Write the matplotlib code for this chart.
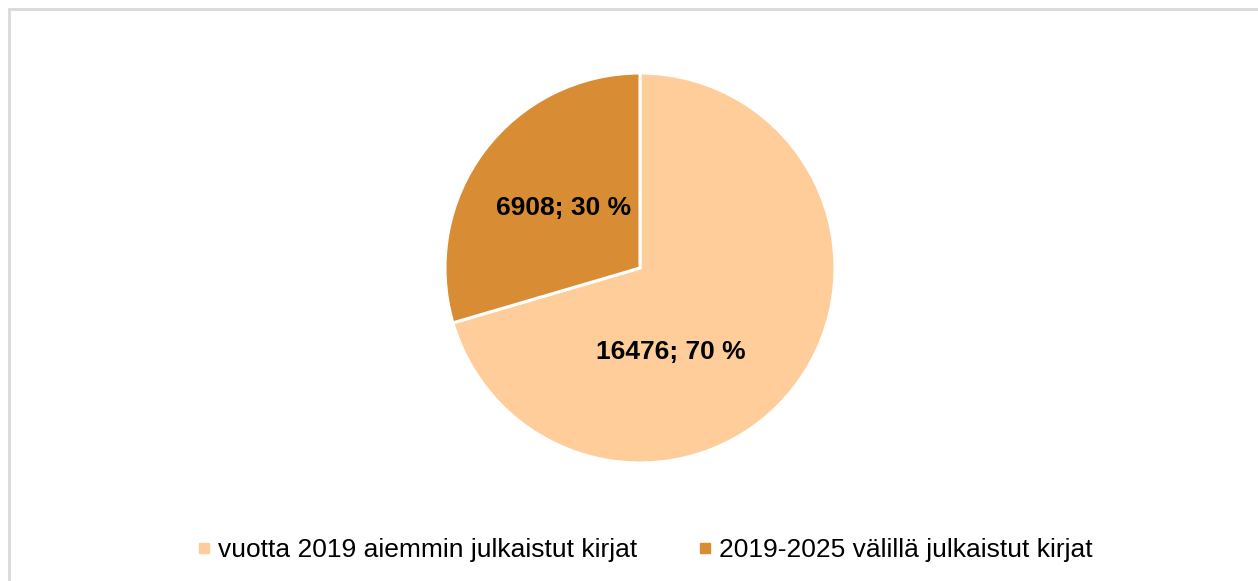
import matplotlib.pyplot as plt
from matplotlib.patches import Rectangle
from matplotlib.lines import Line2D

# Data
labels = ['vuotta 2019 aiemmin julkaistut kirjat', '2019-2025 välillä julkaistut kirjat']
counts = [16476, 6908]
colors = ['#FECD9A', '#D88C34']

plt.rcParams['font.family'] = ['Liberation Sans', 'DejaVu Sans']

W, H = 1258, 581
fig = plt.figure(figsize=(W / 100, H / 100), dpi=100)

# Chart frame
fig.patches.append(Rectangle((9 / W, -0.05), 1.1, (H - 9) / H + 0.05, transform=fig.transFigure,
                             fill=False, edgecolor='#D9D9D9', linewidth=2))

cx, cy, r = 640, 268, 195
ax = fig.add_axes([(cx - r) / W, (H - cy - r) / H, 2 * r / W, 2 * r / H])

total = sum(counts)


def fmt(pct):
    val = int(round(pct * total / 100))
    return f'{val}; {pct:.0f} %'


wedges, texts, autotexts = ax.pie(counts, colors=colors, startangle=90, counterclock=False,
                                  autopct=fmt, pctdistance=0.51,
                                  wedgeprops=dict(edgecolor='white', linewidth=2.2),
                                  textprops=dict(fontsize=19, fontweight='bold', color='black'))
# Excel put the big label nearer the bottom
autotexts[0].set_position((0.16, -0.43))
autotexts[1].set_position((-0.39, 0.31))
ax.set_xlim(-1, 1)
ax.set_ylim(-1, 1)
ax.set_aspect('equal')
ax.axis('off')

handles = [Line2D([], [], marker='s', linestyle='none', markersize=6.5, color=c) for c in colors]
fig.legend(handles, labels, loc='center', bbox_to_anchor=(645 / W, (H - 550) / H), ncol=2,
           frameon=False, fontsize=19, handletextpad=0.3, columnspacing=2.3, handlelength=0.5)

fig.savefig('out.png', dpi=100)
